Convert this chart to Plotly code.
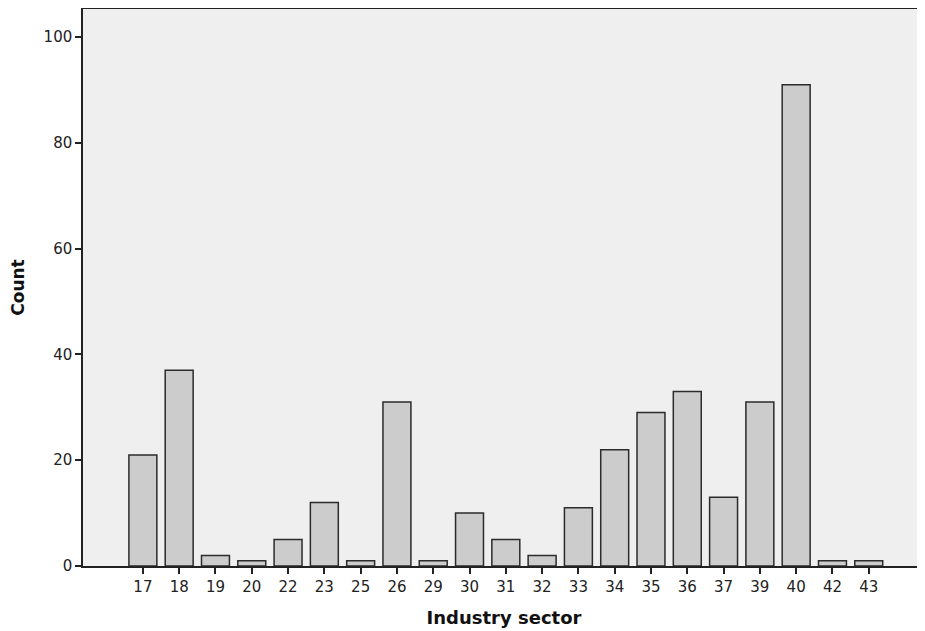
import plotly.graph_objects as go

sectors = ["17", "18", "19", "20", "22", "23", "25", "26", "29", "30", "31",
           "32", "33", "34", "35", "36", "37", "39", "40", "42", "43"]
counts = [21, 37, 2, 1, 5, 12, 1, 31, 1, 10, 5, 2, 11, 22, 29, 33, 13, 31, 91, 1, 1]
y_ticks = [0, 20, 40, 60, 80, 100]

fig = go.Figure()
fig.add_trace(go.Bar(
    x=sectors, y=counts, width=0.77,
    marker=dict(color="#cccccc", line=dict(color="#2b2b2b", width=1.5)),
))

fig.update_layout(
    width=917, height=623,
    margin=dict(l=75, r=0, t=1, b=65, autoexpand=False),
    paper_bgcolor="white", plot_bgcolor="#efefef",
    showlegend=False,
    font=dict(family="DejaVu Sans, sans-serif", color="#222222", size=15),
)
fig.update_xaxes(
    type="category", range=[-1.65, 21.55], automargin=False,
    showline=True, linecolor="#222222", linewidth=1.5, mirror=True,
    ticks="outside", ticklen=6, tickwidth=1.5, tickcolor="#222222",
    showgrid=False, zeroline=False,
    title=dict(text="<b>Industry sector</b>", font=dict(size=18, color="#111111"), standoff=17),
)
fig.update_yaxes(
    range=[0, 105.3], tickvals=y_ticks, automargin=False,
    showline=True, linecolor="#222222", linewidth=1.5,
    ticks="outside", ticklen=6, tickwidth=1.5, tickcolor="#222222",
    showgrid=False, zeroline=False,
    title=dict(text="<b>Count</b>", font=dict(size=17, color="#111111"), standoff=26),
)

fig.write_html("out.html")
